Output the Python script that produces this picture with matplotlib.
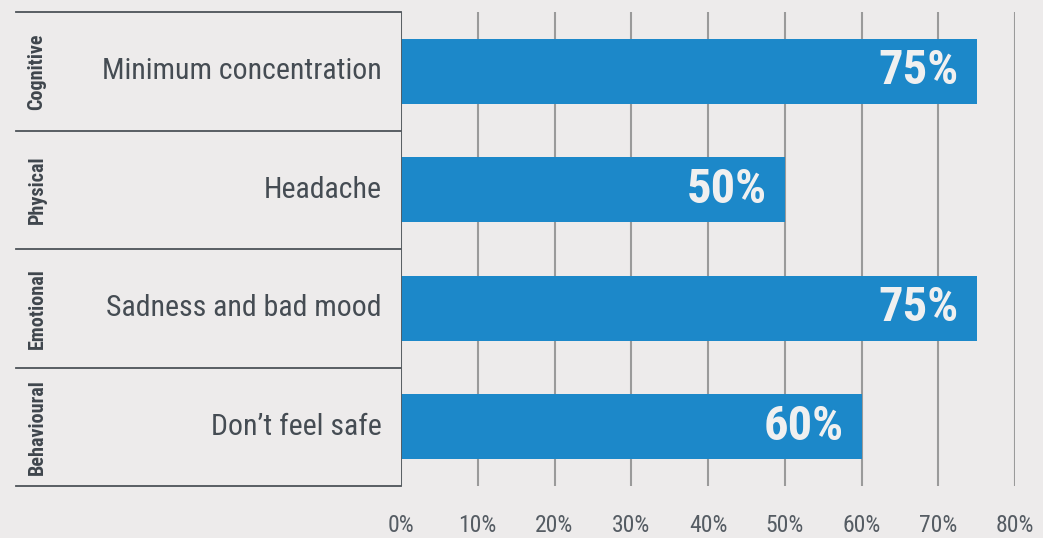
import matplotlib.pyplot as plt
from matplotlib import font_manager
import matplotlib.transforms as mtransforms

groups = ["Cognitive", "Physical", "Emotional", "Behavioural"]
symptoms = ["Minimum concentration", "Headache", "Sadness and bad mood", "Don\u2019t feel safe"]
values = [75, 50, 75, 60]
ticks = [0, 10, 20, 30, 40, 50, 60, 70, 80]

names = {f.name for f in font_manager.fontManager.ttflist}
if "Roboto Condensed" in names:
    fam, scale = "Roboto Condensed", 1.0
else:
    fam, scale = "Roboto", 0.86
plt.rcParams['font.family'] = [fam, 'DejaVu Sans']

bg = "#edebeb"
blue = "#1c88c9"
txt = "#454c53"

fig = plt.figure(figsize=(10.43, 5.38), dpi=100, facecolor=bg)
ax = fig.add_axes([401/1043, 1-486/538, 614/1043, 474/538], facecolor=bg)

y = list(range(len(symptoms)))
ax.set_xlim(0, 80)
ax.set_ylim(3.5, -0.5)
ax.set_xticks(ticks)
ax.set_xticklabels([f"{t}%" for t in ticks], fontsize=17*scale, color="#555c63")
ax.set_yticks([])
ax.tick_params(axis='x', length=0, pad=20)
ax.grid(axis='x', color="#9a9a9a", linewidth=1.5)
ax.set_axisbelow(True)
for s in ax.spines.values():
    s.set_visible(False)

ax.barh(y, values, height=0.55, color=blue, zorder=2)
for yi, v in zip(y, values):
    ax.text(v - 2.3, yi, f"{v}%", ha='right', va='center', fontsize=35*scale,
            fontweight='bold', color="#f0f0f0", zorder=3)

# left frame: vertical line at 0 and row separators
ax.axvline(0, color="#555b60", linewidth=1.3, zorder=4)
trans = mtransforms.blended_transform_factory(ax.transAxes, ax.transData)
for b in [-0.5, 0.5, 1.5, 2.5, 3.5]:
    ax.plot([-0.627, 0], [b, b], color="#4d5358", linewidth=1.3,
            transform=trans, clip_on=False)

for yi, s, g in zip(y, symptoms, groups):
    ax.text(-0.031, yi, s, ha='right', va='center', fontsize=21.5*scale,
            color=txt, transform=trans)
    ax.text(-0.593, yi, g, ha='center', va='center', rotation=90,
            fontsize=14.5*scale, fontweight='bold', color="#3f464d", transform=trans)

fig.savefig("out.png", dpi=100, facecolor=bg)
